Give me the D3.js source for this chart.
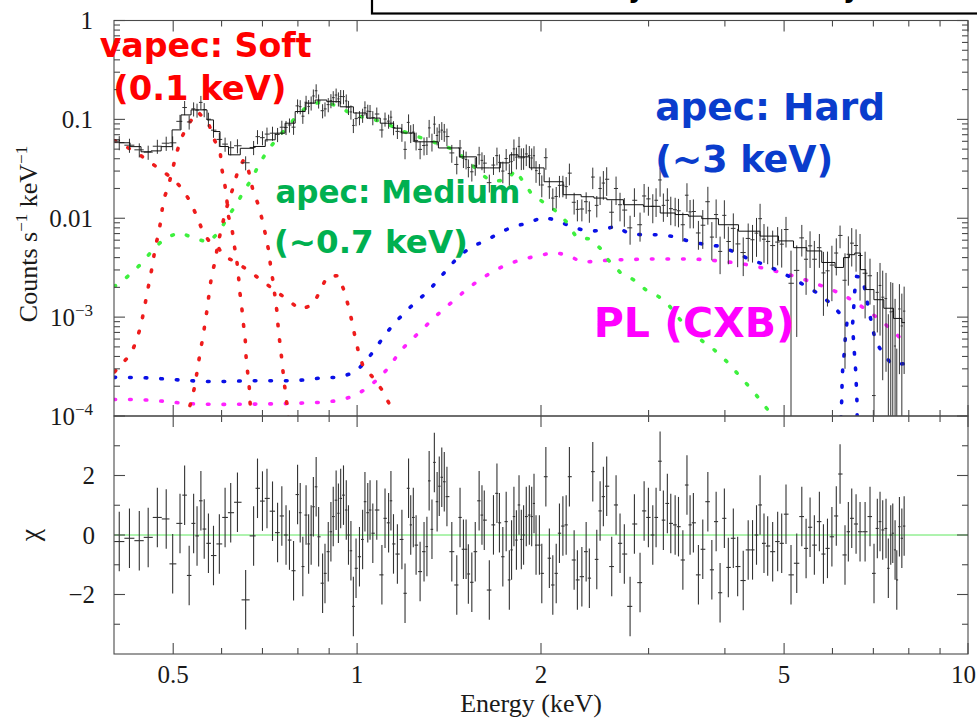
<!DOCTYPE html>
<html><head><meta charset="utf-8">
<script src="https://cdn.jsdelivr.net/npm/d3@7"></script>
<style>html,body{margin:0;padding:0;background:#fff}svg{display:block}</style>
</head><body>
<svg id="chart" width="977" height="719"></svg>
<script>
// ---------------- DATA ----------------
const xMajorTicks = [0.5, 1, 2, 5, 10];
const xMajorLabels = ["0.5", "1", "2", "5", "10"];
const xMinorTicks = [0.6, 0.7, 0.8, 0.9, 3, 4, 6, 7, 8, 9];
const yTopMajor = [1, 0.1, 0.01, 1e-3, 1e-4];
const yTopLabels = [["1"], ["0.1"], ["0.01"], ["10", "−3"], ["10", "−4"]];
const yBotMajor = [-2, 0, 2];
const yBotLabels = ["−2", "0", "2"];
const yBotMinor = [-3, -1, 1, 3];

// vapec soft (red): continuum + Ne IX, O VII line, O VIII line
const redContinuum = [[0.400,0.061],[0.406,0.059],[0.433,0.047],[0.453,0.039],[0.474,0.0316],[0.497,0.0257],[0.516,0.0203],[0.533,0.0148],[0.548,0.0101],[0.560,0.00713],[0.575,0.00565],[0.592,0.00515],[0.603,0.00419],[0.636,0.00355],[0.668,0.00288],[0.702,0.00228],[0.734,0.00186],[0.769,0.0015],[0.807,0.00119],[0.848,0.00134],[0.870,0.00186],[0.893,0.00257],[0.931,0.00263],[0.952,0.00186],[0.967,0.00131],[0.981,0.0009],[0.992,0.000635],[1.004,0.000459],[1.023,0.000316],[1.062,0.000245],[1.103,0.000177],[1.130,0.000131],[1.140,0.0001]];
const redLineA = [[0.401,0.00028],[0.409,0.000323],[0.426,0.000418],[0.436,0.000592],[0.443,0.00084],[0.448,0.00119],[0.453,0.00173],[0.458,0.00245],[0.463,0.00347],[0.467,0.00503],[0.474,0.0073],[0.478,0.0104],[0.482,0.0154],[0.491,0.021],[0.505,0.0428],[0.513,0.0597],[0.526,0.0846],[0.548,0.12],[0.571,0.0915],[0.584,0.0621],[0.597,0.046],[0.601,0.0309],[0.608,0.021],[0.612,0.0154],[0.616,0.0104],[0.625,0.0073],[0.630,0.00515],[0.636,0.00355],[0.640,0.00245],[0.643,0.00176],[0.648,0.00119],[0.652,0.000821],[0.656,0.000592],[0.658,0.000399],[0.662,0.000275],[0.666,0.000195],[0.668,0.000138],[0.671,0.0000955]];
const redLineB = [[0.524,0.00009],[0.527,0.000104],[0.536,0.000144],[0.543,0.000208],[0.548,0.000301],[0.553,0.000428],[0.559,0.00062],[0.564,0.000883],[0.569,0.00128],[0.573,0.00182],[0.578,0.00263],[0.586,0.00375],[0.591,0.00527],[0.599,0.00765],[0.610,0.0122],[0.625,0.0194],[0.639,0.0309],[0.652,0.039],[0.662,0.0332],[0.675,0.0194],[0.689,0.0137],[0.698,0.0101],[0.707,0.0071],[0.716,0.00481],[0.722,0.00325],[0.729,0.00222],[0.739,0.00116],[0.743,0.000765],[0.748,0.000528],[0.753,0.000372],[0.758,0.000246],[0.763,0.000177],[0.768,0.000126],[0.772,0.0000955]];

// apec medium (green)
const greenMedium = [[0.400,0.00205],[0.406,0.00213],[0.429,0.00285],[0.447,0.00366],[0.464,0.00489],[0.485,0.0063],[0.512,0.0072],[0.540,0.0063],[0.571,0.0057],[0.595,0.0073],[0.614,0.0103],[0.634,0.0137],[0.652,0.0187],[0.674,0.0255],[0.690,0.0347],[0.713,0.048],[0.738,0.063],[0.769,0.0846],[0.797,0.108],[0.822,0.13],[0.854,0.146],[0.886,0.15],[0.931,0.135],[0.986,0.111],[1.037,0.103],[1.098,0.095],[1.161,0.081],[1.229,0.0697],[1.306,0.0621],[1.442,0.0492],[1.531,0.0363],[1.596,0.0281],[1.657,0.0235],[1.766,0.0245],[1.814,0.0309],[1.926,0.018],[2.023,0.0143],[2.135,0.0114],[2.211,0.00889],[2.290,0.0063],[2.406,0.0062],[2.499,0.00499],[2.563,0.00392],[2.694,0.00285],[2.834,0.00239],[2.964,0.0019],[3.118,0.00161],[3.240,0.00131],[3.378,0.000943],[3.530,0.000748],[3.664,0.00058],[3.837,0.00047],[4.024,0.000358],[4.187,0.000272],[4.367,0.000203],[4.530,0.000155],[4.700,0.000116],[4.755,0.0001]];

// apec hard (blue)
const blueHard = [[0.400,0.000246],[0.436,0.000245],[0.461,0.000242],[0.489,0.000236],[0.519,0.00023],[0.552,0.000225],[0.586,0.000222],[0.620,0.000224],[0.658,0.000227],[0.698,0.000227],[0.740,0.000228],[0.787,0.000227],[0.833,0.000234],[0.883,0.000245],[0.935,0.000245],[0.993,0.000278],[1.034,0.000358],[1.070,0.000475],[1.107,0.000642],[1.147,0.000849],[1.198,0.00112],[1.251,0.00145],[1.307,0.00182],[1.358,0.00239],[1.411,0.00315],[1.466,0.00411],[1.541,0.00518],[1.619,0.00588],[1.703,0.00699],[1.802,0.0083],[1.906,0.0089],[2.012,0.0103],[2.125,0.0095],[2.232,0.0083],[2.375,0.0074],[2.499,0.0075],[2.645,0.0083],[2.798,0.0069],[2.964,0.0068],[3.133,0.0068],[3.316,0.0065],[3.508,0.0058],[3.731,0.0054],[3.939,0.0052],[4.175,0.00447],[4.398,0.00381],[4.653,0.00339],[4.912,0.0029],[5.178,0.00245],[5.448,0.00203],[5.725,0.00169],[5.987,0.00134],[6.338,0.0009],[6.299,0.000635],[6.276,0.000446],[6.237,0.000309],[6.221,0.000216],[6.214,0.000147],[6.197,0.000104],[6.185,0.000058],[6.588,0.000058],[6.583,0.000131],[6.568,0.000185],[6.551,0.00028],[6.526,0.000382],[6.501,0.000545],[6.470,0.00081],[6.501,0.00127],[6.526,0.00183],[6.568,0.00258],[6.722,0.0025],[6.828,0.0015],[6.870,0.00123],[7.046,0.000592],[7.226,0.000444],[7.507,0.000331],[7.861,0.000338]];

// power law CXB (magenta)
const magentaPL = [[0.400,0.000147],[0.435,0.000147],[0.461,0.000144],[0.489,0.00014],[0.521,0.000134],[0.552,0.000132],[0.586,0.000131],[0.621,0.000131],[0.658,0.000132],[0.698,0.000132],[0.740,0.000133],[0.787,0.000134],[0.833,0.000136],[0.886,0.000138],[0.938,0.000144],[0.993,0.000161],[1.044,0.000196],[1.091,0.000248],[1.133,0.000323],[1.176,0.000455],[1.228,0.000592],[1.284,0.000771],[1.339,0.001],[1.400,0.00127],[1.456,0.00156],[1.522,0.00199],[1.590,0.00239],[1.666,0.00289],[1.757,0.00339],[1.866,0.00387],[1.968,0.00413],[2.101,0.00453],[2.220,0.0042],[2.331,0.00359],[2.483,0.00369],[2.628,0.00381],[2.780,0.00381],[2.950,0.00387],[3.133,0.00387],[3.316,0.00387],[3.517,0.00387],[3.740,0.00381],[3.963,0.00366],[4.205,0.00352],[4.450,0.0033],[4.704,0.00305],[4.966,0.00281],[5.275,0.00252],[5.584,0.00223],[5.902,0.00196],[6.237,0.00169],[6.568,0.00139],[6.870,0.00115],[7.226,0.000908],[7.548,0.000722],[7.885,0.00055]];

// total model (black)
const totalModel = [[0.400,0.0621],[0.417,0.058],[0.433,0.053],[0.453,0.047],[0.467,0.048],[0.489,0.053],[0.507,0.0783],[0.523,0.111],[0.547,0.1247],[0.561,0.1247],[0.575,0.0988],[0.589,0.0753],[0.604,0.0532],[0.628,0.0438],[0.660,0.051],[0.694,0.0532],[0.721,0.0621],[0.748,0.0725],[0.777,0.0915],[0.807,0.12],[0.838,0.146],[0.870,0.157],[0.915,0.151],[0.962,0.134],[1.011,0.116],[1.063,0.103],[1.120,0.0915],[1.176,0.0815],[1.189,0.0728],[1.297,0.0593],[1.423,0.0514],[1.519,0.0418],[1.620,0.0323],[1.679,0.0323],[1.753,0.0363],[1.802,0.0438],[1.868,0.0418],[1.966,0.0323],[2.083,0.0234],[2.269,0.0173],[2.386,0.0165],[2.499,0.016],[2.628,0.0154],[2.834,0.0137],[3.055,0.0132],[3.216,0.0113],[3.420,0.0109],[3.553,0.0105],[3.782,0.0099],[4.030,0.0086],[4.398,0.0074],[4.742,0.0066],[5.053,0.0059],[5.310,0.00504],[5.584,0.00467],[5.945,0.00357],[6.174,0.00318],[6.338,0.004],[6.452,0.00428],[6.601,0.00445],[6.735,0.00302],[6.870,0.0019],[7.162,0.0015],[7.402,0.00123],[7.702,0.00097],[7.885,0.00088]];

// spectral bins (keV), shared by data and residuals
const binE = [0.408,0.424,0.440,0.455,0.471,0.487,0.499,0.513,0.522,0.531,0.540,0.547,0.555,0.562,0.571,0.582,0.595,0.608,0.621,0.637,0.657,0.677,0.687,0.700,0.712,0.727,0.741,0.753,0.765,0.775,0.787,0.799,0.807,0.815,0.825,0.833,0.841,0.848,0.857,0.865,0.878,0.886,0.897,0.906,0.914,0.924,0.932,0.940,0.950,0.960,0.968,0.977,0.986,0.996,1.009,1.021,1.030,1.041,1.050,1.061,1.077,1.098,1.111,1.126,1.136,1.147,1.164,1.184,1.198,1.214,1.224,1.236,1.249,1.268,1.287,1.301,1.312,1.326,1.338,1.352,1.363,1.376,1.389,1.403,1.429,1.456,1.474,1.493,1.508,1.521,1.541,1.561,1.584,1.601,1.615,1.646,1.672,1.694,1.710,1.732,1.754,1.775,1.790,1.806,1.823,1.841,1.857,1.873,1.892,1.914,1.931,1.948,1.963,1.988,2.006,2.037,2.064,2.091,2.118,2.144,2.172,2.199,2.226,2.266,2.294,2.333,2.371,2.400,2.431,2.468,2.499,2.530,2.562,2.611,2.654,2.694,2.738,2.798,2.844,2.905,2.950,2.998,3.048,3.086,3.133,3.172,3.220,3.262,3.316,3.358,3.414,3.467,3.508,3.552,3.620,3.680,3.751,3.808,3.870,3.928,3.992,4.052,4.129,4.197,4.286,4.367,4.439,4.506,4.567,4.635,4.700,4.789,4.880,4.955,5.036,5.132,5.244,5.345,5.432,5.514,5.604,5.711,5.799,5.888,5.987,6.087,6.174,6.290,6.370,6.452,6.558,6.657,6.785,6.912,7.017,7.105,7.178,7.251,7.342,7.406,7.474,7.531,7.597,7.646,7.722,7.793,7.861];
// data counts s^-1 keV^-1 and 1-sigma errors
const dataV = [0.0582,0.0548,0.0492,0.0466,0.0535,0.0574,0.0579,0.0955,0.1318,0.0942,0.1278,0.1241,0.1485,0.1256,0.1004,0.0778,0.0627,0.0562,0.0517,0.0541,0.0364,0.0520,0.0669,0.0653,0.0710,0.0725,0.0704,0.0833,0.0829,0.0878,0.0834,0.1369,0.1344,0.1077,0.1489,0.1348,0.1467,0.1725,0.1947,0.1536,0.1224,0.1276,0.1410,0.1547,0.1658,0.1763,0.1612,0.1703,0.1699,0.1536,0.1322,0.1189,0.0868,0.1019,0.1042,0.1102,0.1310,0.1210,0.1202,0.1042,0.1133,0.0781,0.1008,0.0960,0.1053,0.0825,0.0756,0.0746,0.0497,0.0932,0.0725,0.0743,0.0610,0.0497,0.0544,0.0549,0.0820,0.0595,0.0894,0.0687,0.0746,0.0778,0.0746,0.0670,0.0458,0.0350,0.0514,0.0405,0.0392,0.0326,0.0295,0.0339,0.0438,0.0385,0.0361,0.0229,0.0345,0.0430,0.0367,0.0300,0.0402,0.0283,0.0374,0.0503,0.0415,0.0533,0.0408,0.0410,0.0447,0.0431,0.0407,0.0429,0.0303,0.0283,0.0217,0.0410,0.0208,0.0160,0.0166,0.0215,0.0216,0.0209,0.0286,0.0145,0.0123,0.0124,0.0147,0.0119,0.0261,0.0135,0.0200,0.0227,0.0248,0.0115,0.0200,0.0137,0.0121,0.0080,0.0152,0.0086,0.0168,0.0157,0.0132,0.0152,0.0244,0.0135,0.0152,0.0125,0.0122,0.0119,0.0086,0.0171,0.0116,0.0117,0.0071,0.0085,0.0147,0.00645,0.0109,0.00462,0.0107,0.00582,0.0079,0.0055,0.0045,0.00625,0.00606,0.00707,0.0099,0.00614,0.00583,0.00529,0.00574,0.00547,0.00769,0.0022,0.00297,0.00633,0.00385,0.00526,0.00385,0.00504,0.0028,0.00294,0.00336,0.00445,0.0067,0.00236,0.00432,0.0056,0.0053,0.0042,0.00278,0.00262,0.000161,0.00178,0.00209,0.00159,0.00154,0.00002,0.00113,0.00114,0.00051,0.00002,0.00121,0.000814,0.00115];
const dataErr = [0.0095,0.0089,0.008,0.0076,0.0087,0.0094,0.0094,0.0156,0.0215,0.0154,0.0208,0.0202,0.0242,0.0205,0.0164,0.0127,0.0102,0.0092,0.0084,0.0088,0.0059,0.0085,0.0109,0.0106,0.0116,0.0118,0.0115,0.0136,0.0135,0.0143,0.0136,0.0223,0.0219,0.0176,0.0243,0.022,0.0239,0.0281,0.0317,0.025,0.02,0.0208,0.023,0.0252,0.027,0.0287,0.0263,0.0278,0.0277,0.025,0.0215,0.0194,0.0141,0.0166,0.017,0.018,0.0214,0.0197,0.0196,0.017,0.0185,0.0127,0.0164,0.0156,0.0172,0.0134,0.0123,0.0153,0.0102,0.0191,0.0149,0.0152,0.0125,0.0102,0.0112,0.0113,0.0168,0.0122,0.0183,0.0141,0.0153,0.016,0.0153,0.0137,0.0094,0.0072,0.0105,0.0083,0.008,0.0067,0.006,0.007,0.009,0.0079,0.0074,0.0047,0.0071,0.0088,0.0075,0.0074,0.0099,0.007,0.0092,0.0124,0.0103,0.0132,0.0101,0.0101,0.011,0.0106,0.0101,0.0106,0.0075,0.007,0.0054,0.0101,0.0051,0.004,0.0041,0.0053,0.0053,0.0052,0.0071,0.0036,0.003,0.0031,0.0036,0.0029,0.0064,0.0033,0.0064,0.0073,0.008,0.0037,0.0064,0.0044,0.0039,0.0026,0.0049,0.0028,0.0054,0.0051,0.0043,0.0049,0.0079,0.0043,0.0049,0.004,0.0039,0.0038,0.0028,0.0055,0.0037,0.0038,0.0023,0.0036,0.0061,0.0027,0.0046,0.0019,0.0045,0.0024,0.0033,0.0023,0.0019,0.0026,0.0025,0.003,0.0041,0.0026,0.0024,0.0022,0.0024,0.0023,0.00263,0.0025,0.00234,0.00223,0.00217,0.00212,0.00205,0.00189,0.00177,0.00166,0.00191,0.00181,0.00173,0.00206,0.00224,0.00235,0.00242,0.00273,0.00181,0.00128,0.00116,0.00108,0.00144,0.00136,0.00126,0.00105,0.00113,0.00108,0.00102,0.00046,0.000945,0.000915,0.000884];
// residuals (chi)
const residChi = [-0.22,-0.11,-0.19,-0.08,0.59,0.54,-0.97,0.39,1.34,-1.36,0.39,-0.03,1.15,0.2,-0.28,-0.69,-0.3,0.59,0.75,1.1,-2.18,-0.03,1.57,1.14,1.23,0.8,0.08,0.64,0,-0.17,-1.2,1.36,0.75,-1.06,0.67,-0.3,0,0.95,1.62,-0.06,-1.62,-1.29,-0.56,0.11,0.62,1.17,0.73,1.23,1.34,0.84,0,-0.53,-2.4,-1.12,-0.73,-0.15,1.12,0.75,0.84,0.06,0.84,-1.34,0.56,0.41,1.15,-0.3,-0.64,-0.15,-1.96,1.57,0.34,0.59,-0.34,-1.23,-0.56,-0.39,1.82,0.19,2.44,1.12,1.64,1.94,1.79,1.29,-0.56,-1.68,0.59,-0.48,-0.48,-1.31,-1.59,-0.56,1.15,0.67,0.5,-1.85,0.34,1.4,0.41,-0.73,0.45,-1.51,-0.5,0.62,-0.17,1.01,-0.15,0,0.62,0.67,0.62,1.06,-0.34,-0.34,-1.29,1.96,-0.78,-1.68,-1.29,0.06,0.3,0.34,1.96,-0.84,-1.51,-1.4,-0.56,-1.45,2.13,-0.82,0.81,1.29,1.64,-1.06,1.01,-0.28,-0.64,-2.4,0.37,-1.6,0.81,0.59,0,0.59,2.48,0.5,1.06,0.39,0.34,0.28,-0.84,1.68,0.34,0.41,-1.34,-0.48,1.12,-1.17,0.45,-1.94,0.56,-1.09,-0.11,-1.06,-1.53,-0.5,-0.5,0,1.01,-0.28,-0.37,-0.56,-0.22,-0.28,0.7,-1.34,-0.95,0.62,-0.45,0.26,-0.34,0.45,-0.64,-0.45,-0.06,0.64,2.05,-0.67,0.11,0.56,0.37,0.11,0.11,0.62,-1.29,0.22,0.45,0.17,0.22,-1.12,0,0.06,-0.5,-1.51,0.28,-0.11,0.3];

// annotations: text, anchor energy, anchor value, colour, font size, width
const annotations = [
  ["vapec: Soft", 0.379, 0.428, "#ff0000", 33, 212],
  ["(0.1 keV)", 0.399, 0.157, "#ff0000", 33, 173],
  ["apec: Medium", 0.735, 0.01434, "#00b050", 32, 245],
  ["(~0.7 keV)", 0.731, 0.00448, "#00b050", 32, 194],
  ["apec: Hard", 3.075, 0.0989, "#0a3ccc", 38, 230],
  ["(~3 keV)", 3.075, 0.0295, "#0a3ccc", 38, 178],
  ["PL (CXB)", 2.44, 0.000635, "#ff00ff", 41, 201]
];

// ---------------- LAYOUT ----------------
const L = 114, R = 968, T = 20.5, M = 416, B = 654;
const svg = d3.select("#chart");
const x = d3.scaleLog().domain([0.4, 10]).range([L, R]);
const yT = d3.scaleLog().domain([1e-4, 1]).range([M, T]);
const yB = d3.scaleLinear().domain([-4, 4]).range([B, M]);
const axisColor = "#4a4a4a";
const serif = "'Liberation Serif','Times New Roman',serif";

const defs = svg.append("defs");
defs.append("clipPath").attr("id", "clipTop").append("rect")
  .attr("x", L).attr("y", T).attr("width", R - L).attr("height", M - T);
defs.append("clipPath").attr("id", "clipBot").append("rect")
  .attr("x", L).attr("y", M).attr("width", R - L).attr("height", B - M);

// header box (cut off at the top of the page, as in the source figure)
svg.append("rect").attr("x", 372).attr("y", -30).attr("width", 700).attr("height", 43.5)
  .attr("fill", "#fff").attr("stroke", "#000").attr("stroke-width", 2.2);
svg.append("text").attr("x", 628).attr("y", -3).attr("font-family", "DejaVu Sans").attr("font-weight", "bold")
  .attr("font-size", 26).attr("fill", "#000").text("y");
svg.append("text").attr("x", 843).attr("y", -3).attr("font-family", "DejaVu Sans").attr("font-weight", "bold")
  .attr("font-size", 26).attr("fill", "#000").text("y");

// bin edges (geometric midpoints between neighbouring bins)
const nB = Math.min(binE.length, residChi.length, dataV.length, dataErr.length);
const binLo = [], binHi = [];
for (let i = 0; i < nB; i++) {
  const e = binE[i];
  binLo.push(i > 0 ? Math.sqrt(binE[i - 1] * e) : e * e / Math.sqrt(binE[i + 1] * e));
  binHi.push(i < nB - 1 ? Math.sqrt(binE[i + 1] * e) : e * e / Math.sqrt(binE[i - 1] * e));
}

// ---------------- TOP PANEL ----------------
const gTop = svg.append("g").attr("clip-path", "url(#clipTop)");
const lineT = d3.line().x(d => x(d[0])).y(d => yT(d[1]));

function dotted(data, color) {
  gTop.append("path").attr("d", lineT(data)).attr("fill", "none")
    .attr("stroke", color).attr("stroke-width", 3.6)
    .attr("stroke-linecap", "round").attr("stroke-dasharray", "1.6 14");
}
dotted(magentaPL, "#ff22ff");
dotted(blueHard, "#0a10e6");
dotted(greenMedium, "#3ef03e");
dotted(redContinuum, "#ee1c1c");
dotted(redLineA, "#ee1c1c");
dotted(redLineB, "#ee1c1c");

// data crosses
for (let i = 0; i < nB; i++) {
  const v = dataV[i], s = dataErr[i];
  const lo = Math.max(v - s, 1e-6);
  gTop.append("line").attr("x1", x(binE[i])).attr("x2", x(binE[i]))
    .attr("y1", yT(lo)).attr("y2", yT(v + s))
    .attr("stroke", "#333").attr("stroke-width", 1);
  gTop.append("line").attr("x1", x(binLo[i])).attr("x2", x(binHi[i]))
    .attr("y1", yT(v)).attr("y2", yT(v))
    .attr("stroke", "#333").attr("stroke-width", 1);
}

gTop.append("path").attr("d", d3.line().x(d => x(d[0])).y(d => yT(d[1])).curve(d3.curveStep)(totalModel))
  .attr("fill", "none").attr("stroke", "#111").attr("stroke-width", 1);

// ---------------- BOTTOM PANEL ----------------
const gBot = svg.append("g").attr("clip-path", "url(#clipBot)");
gBot.append("line").attr("x1", L).attr("x2", R).attr("y1", yB(0)).attr("y2", yB(0))
  .attr("stroke", "#5ee65e").attr("stroke-width", 1);
for (let i = 0; i < nB; i++) {
  const c = residChi[i];
  gBot.append("line").attr("x1", x(binE[i])).attr("x2", x(binE[i])).attr("y1", yB(c - 1)).attr("y2", yB(c + 1))
    .attr("stroke", "#333").attr("stroke-width", 1.1);
  gBot.append("line").attr("x1", x(binLo[i])).attr("x2", x(binHi[i])).attr("y1", yB(c)).attr("y2", yB(c))
    .attr("stroke", "#333").attr("stroke-width", 1.1);
}

// ---------------- AXES / FRAMES ----------------
const gAx = svg.append("g").attr("stroke", axisColor).attr("stroke-width", 1.1).attr("fill", "none");
gAx.append("rect").attr("x", L).attr("y", T).attr("width", R - L).attr("height", M - T);
gAx.append("rect").attr("x", L).attr("y", M).attr("width", R - L).attr("height", B - M);
const MAJ = 11, MIN = 6;
function vt(xp, y0, len) { gAx.append("line").attr("x1", xp).attr("x2", xp).attr("y1", y0).attr("y2", y0 + len); }
function ht(yp, x0, len) { gAx.append("line").attr("x1", x0).attr("x2", x0 + len).attr("y1", yp).attr("y2", yp); }
xMajorTicks.forEach(v => { const p = x(v); vt(p, T, MAJ); vt(p, M, -MAJ); vt(p, M, MAJ); vt(p, B, -MAJ); });
xMinorTicks.forEach(v => { const p = x(v); vt(p, T, MIN); vt(p, M, -MIN); vt(p, M, MIN); vt(p, B, -MIN); });
yTopMajor.forEach(v => { const p = yT(v); ht(p, L, MAJ); ht(p, R, -MAJ); });
for (let d = -4; d < 0; d++) for (let k = 2; k <= 9; k++) {
  const p = yT(k * Math.pow(10, d)); ht(p, L, MIN); ht(p, R, -MIN);
}
yBotMajor.forEach(v => { const p = yB(v); ht(p, L, MAJ); ht(p, R, -MAJ); });
yBotMinor.forEach(v => { const p = yB(v); ht(p, L, MIN); ht(p, R, -MIN); });

// tick labels
const gLab = svg.append("g").attr("font-family", serif).attr("fill", "#1a1a1a");
xMajorTicks.forEach((v, i) => {
  const last = i === xMajorTicks.length - 1;
  gLab.append("text").attr("x", last ? 976 : x(v)).attr("y", B + 29)
    .attr("text-anchor", last ? "end" : "middle")
    .attr("font-size", 25).text(xMajorLabels[i]);
});
yTopMajor.forEach((v, i) => {
  const t = gLab.append("text").attr("x", L - 21).attr("y", yT(v) + 8.5).attr("text-anchor", "end").attr("font-size", 25);
  const parts = yTopLabels[i];
  t.append("tspan").text(parts[0]);
  if (parts[1]) t.append("tspan").attr("dy", -10).attr("font-size", 17).text(parts[1]);
});
yBotMajor.forEach((v, i) => {
  gLab.append("text").attr("x", L - 19).attr("y", yB(v) + 8.5).attr("text-anchor", "end")
    .attr("font-size", 25).text(yBotLabels[i]);
});

// axis titles
const yt = gLab.append("text").attr("transform", `translate(37, 234) rotate(-90)`)
  .attr("text-anchor", "middle").attr("font-size", 26);
yt.append("tspan").text("Counts s");
yt.append("tspan").attr("dy", -10).attr("font-size", 17).text("−1");
yt.append("tspan").attr("dy", 10).text(" keV");
yt.append("tspan").attr("dy", -10).attr("font-size", 17).text("−1");
gLab.append("text").attr("transform", `translate(39, ${yB(0)}) rotate(-90)`)
  .attr("text-anchor", "middle").attr("font-size", 28).text("χ");
gLab.append("text").attr("x", 531).attr("y", 712).attr("text-anchor", "middle")
  .attr("font-size", 26).text("Energy (keV)");

// annotations
annotations.forEach(a => {
  svg.append("text").attr("x", x(a[1])).attr("y", yT(a[2]))
    .attr("font-family", "'DejaVu Sans',sans-serif").attr("font-weight", "bold")
    .attr("font-size", a[4]).attr("fill", a[3])
    .attr("textLength", a[5]).attr("lengthAdjust", "spacingAndGlyphs").text(a[0]);
});
</script>
</body></html>
